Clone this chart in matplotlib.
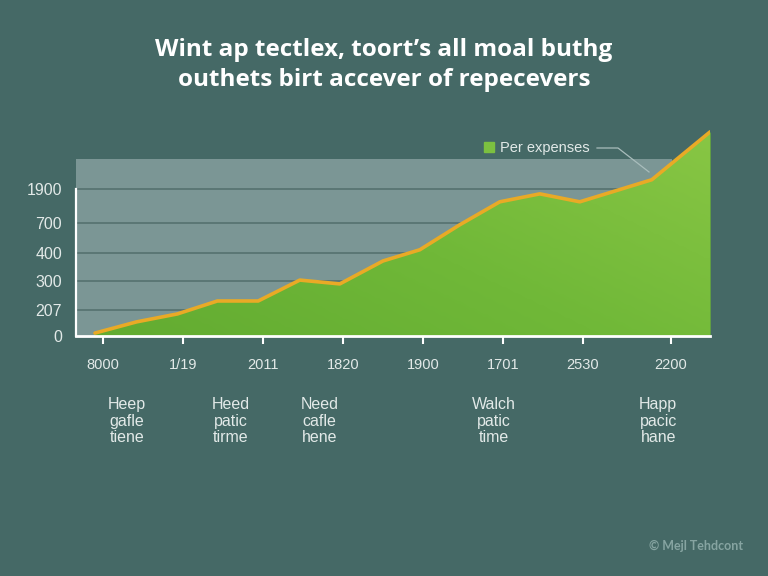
import numpy as np
import matplotlib.pyplot as plt
from matplotlib.colors import LinearSegmentedColormap
from matplotlib.patches import Patch
from matplotlib.lines import Line2D

plt.rcParams['font.family'] = ['Liberation Sans', 'DejaVu Sans']

# --- data ---
title = "Wint ap tectlex, toort’s all moal buthg\nouthets birt accever of repecevers"

x_tick_pos = [0, 1, 2, 3, 4, 5, 6, 7.1]
x_tick_labels = ["8000", "1/19", "2011", "1820", "1900", "1701", "2530", "2200"]

y_tick_pos = [0, 0.88, 1.87, 2.82, 3.84, 5.0]
y_tick_labels = ["0", "207", "300", "400", "700", "1900"]

expense_x = [-0.1, 0.42, 0.93, 1.43, 1.94, 2.46, 2.96, 3.5, 3.96,
             4.46, 4.96, 5.46, 5.96, 6.86, 7.59]
expense_y = [0.1, 0.48, 0.75, 1.19, 1.19, 1.9, 1.77, 2.55, 2.93,
             3.78, 4.56, 4.83, 4.56, 5.31, 6.94]

note_x = [0.3, 1.6, 2.71, 4.88, 6.94]
note_text = ["Heep\ngafle\ntiene", "Heed\npatic\ntirme", "Need\ncafle\nhene",
             "Walch\npatic\ntime", "Happ\npacic\nhane"]

# --- colours ---
BG = "#456966"
BAND = "#7b9695"
GRID = "#587472"
GREEN = "#6cb435"
LINE = "#e9aa26"
LIGHT = "#e2e9e8"

fig = plt.figure(figsize=(7.68, 5.76), dpi=100)
fig.patch.set_facecolor(BG)

ax = fig.add_axes([76 / 768, 240 / 576, 634 / 768, 206 / 576])
ax.set_facecolor("none")
x0, x1 = -0.3375, 7.5875
band_right = 7.11

# gray band + grid
ax.fill_between([x0, band_right], 0, 6, color=BAND, lw=0, zorder=1)
ax.hlines(y_tick_pos[1:], x0, band_right, color=GRID, lw=1.3, zorder=1.5)

# green area with a soft gradient
poly = ax.fill_between(expense_x, expense_y, 0, color=GREEN, lw=0, zorder=2)
gx, gy = np.meshgrid(np.linspace(0, 1, 200), np.linspace(0, 1, 100))
grad = 0.6 * gx + 0.4 * gy
cmap = LinearSegmentedColormap.from_list("g", ["#62ab31", "#70b838", "#88c644"])
img = ax.imshow(grad, extent=[x0, x1, 0, 7.0], origin="lower", cmap=cmap,
                aspect="auto", zorder=2.1, interpolation="bilinear")
img.set_clip_path(poly.get_paths()[0], transform=ax.transData)

ax.plot(expense_x, expense_y, color=LINE, lw=2.6, zorder=3,
        solid_joinstyle="round", solid_capstyle="round")

ax.set_xlim(x0, x1)
ax.set_ylim(0, 7.0)

for s in ["top", "right"]:
    ax.spines[s].set_visible(False)
ax.spines["left"].set_color("white")
ax.spines["left"].set_linewidth(1.6)
ax.spines["left"].set_bounds(0, 5)
ax.spines["bottom"].set_color("white")
ax.spines["bottom"].set_linewidth(2)
ax.spines["bottom"].set_zorder(4)

ax.set_xticks(x_tick_pos, x_tick_labels)
ax.set_yticks(y_tick_pos, y_tick_labels)
ax.tick_params(axis="x", length=6, width=1.5, color="white", pad=10,
               labelsize=10.5, labelcolor=LIGHT)
ax.tick_params(axis="y", length=0, pad=10, labelsize=11.5, labelcolor=LIGHT)

# notes below the axis
for nx, nt in zip(note_x, note_text):
    ax.text(nx, -2.89, nt, ha="center", va="center", fontsize=11.5,
            color=LIGHT, linespacing=1.12, clip_on=False)

# legend with leader line
ax.legend(handles=[Patch(color="#7cc040", label="Per expenses")],
          loc="center left", bbox_to_anchor=(484 / 768, 1 - 148 / 576),
          bbox_transform=fig.transFigure, frameon=False, fontsize=10.5,
          labelcolor=LIGHT, handlelength=0.7, handleheight=0.7,
          handletextpad=0.4, borderpad=0, borderaxespad=0)
fig.add_artist(Line2D([597 / 768, 618 / 768, 649 / 768],
                      [1 - 148 / 576, 1 - 148 / 576, 1 - 172 / 576],
                      color="#a9bdbc", lw=0.9))

fig.text(0.5, 1 - 65 / 576, title, ha="center", va="center", fontsize=17.5,
         fontweight="bold", color="white", family=["Open Sans", "DejaVu Sans"],
         linespacing=1.3)

fig.text(696 / 768, 1 - 546 / 576, "© Mejl Tehdcont", ha="center", va="center",
         fontsize=9, fontweight="bold", color="#86a4a1",
         family=["Lato", "DejaVu Sans"])

fig.savefig("out.png", dpi=100, facecolor=fig.get_facecolor())
